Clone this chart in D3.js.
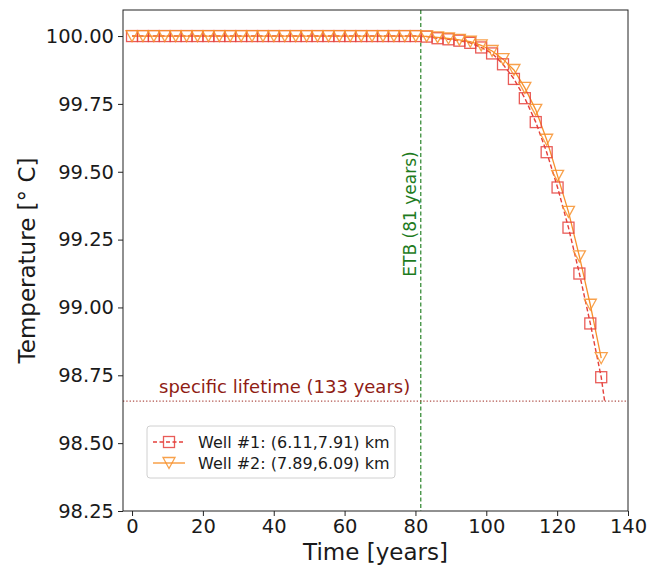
<!DOCTYPE html>
<html>
<head>
<meta charset="utf-8">
<script src="https://cdn.jsdelivr.net/npm/d3@7"></script>
<style>
  body { margin: 0; background: #fff; }
  text { font-family: "DejaVu Sans", sans-serif; fill: #1a1a1a; }
</style>
</head>
<body>
<svg width="664" height="569"></svg>
<script>
// data
var years = [0, 3.08, 6.16, 9.24, 12.32, 15.4, 18.48, 21.56, 24.64, 27.72, 30.8,
  33.88, 36.96, 40.04, 43.12, 46.2, 49.28, 52.36, 55.44, 58.52, 61.6, 64.68,
  67.76, 70.84, 73.92, 77.0, 80.08, 83.16, 86.24, 89.32, 92.4, 95.48, 98.56,
  101.64, 104.72, 107.8, 110.88, 113.96, 117.04, 120.12, 123.2, 126.28, 129.36, 132.44];

var well1Temp = [100, 100, 100, 100, 100, 100, 100, 100, 100, 100, 100,
  100, 100, 100, 100, 100, 100, 100, 100, 100, 100, 100,
  100, 100, 100, 100, 100, 99.998, 99.992, 99.988, 99.983, 99.975, 99.958,
  99.936, 99.896, 99.842, 99.771, 99.683, 99.572, 99.442, 99.294, 99.125, 98.941, 98.743];

var well2Temp = [100, 100, 100, 100, 100, 100, 100, 100, 100, 100, 100,
  100, 100, 100, 100, 100, 100, 100, 100, 100, 100, 100,
  100, 100, 100, 100, 100, 99.999, 99.995, 99.991, 99.986, 99.979, 99.966,
  99.945, 99.915, 99.875, 99.809, 99.728, 99.618, 99.485, 99.352, 99.188, 99.010, 98.813];

// well 1 line runs on to the lifetime threshold (no marker there)
var well1End = {year: 133.4, temp: 98.655};

var etbYear = 81.5;
var lifetimeTemp = 98.655;
var wellLabels = ['Well #1: (6.11,7.91) km', 'Well #2: (7.89,6.09) km'];
var xTicks = [0, 20, 40, 60, 80, 100, 120, 140];
var yTicks = [98.25, 98.5, 98.75, 99, 99.25, 99.5, 99.75, 100];

var red = '#e5403b';
var orange = '#f7912c';

var svg = d3.select('svg');
var plot = {l: 123, r: 628, t: 10, b: 511};

var x = d3.scaleLinear().domain([-2.55, 140]).range([plot.l, plot.r]);
var y = d3.scaleLinear().domain([98.25, 100.096]).range([plot.b, plot.t]);

var well1 = years.map((d, i) => ({year: d, temp: well1Temp[i]}));
var well2 = years.map((d, i) => ({year: d, temp: well2Temp[i]}));

var line = d3.line().x(d => x(d.year)).y(d => y(d.temp));

// reference lines
svg.append('line')
  .attr('x1', x(etbYear)).attr('x2', x(etbYear))
  .attr('y1', plot.t).attr('y2', plot.b)
  .style('stroke', '#3a8e3a').style('stroke-width', 1.3)
  .style('stroke-dasharray', '4,2.5');

svg.append('line')
  .attr('x1', plot.l).attr('x2', plot.r)
  .attr('y1', y(lifetimeTemp)).attr('y2', y(lifetimeTemp))
  .style('stroke', '#b0504a').style('stroke-width', 1.3)
  .style('stroke-dasharray', '1.3,2');

svg.append('text')
  .attr('transform', 'translate(' + (x(etbYear) - 5) + ',214) rotate(-90)')
  .attr('text-anchor', 'middle')
  .style('font-size', '17px')
  .style('fill', '#1e7b1e')
  .text('ETB (' + Math.floor(etbYear) + ' years)');

svg.append('text')
  .attr('x', 159).attr('y', y(lifetimeTemp) - 8)
  .style('font-size', '18px')
  .style('fill', '#8f1c14')
  .text('specific lifetime (133 years)');

// series
svg.append('path')
  .attr('d', line(well1.concat([well1End])))
  .style('fill', 'none').style('stroke', red).style('stroke-width', 1.4)
  .style('stroke-dasharray', '4.5,2.5');

svg.append('path')
  .attr('d', line(well2))
  .style('fill', 'none').style('stroke', orange).style('stroke-width', 1.3);

function square(g) {
  g.append('rect')
    .attr('x', -5.5).attr('y', -5.5).attr('width', 11).attr('height', 11)
    .style('fill', 'none').style('stroke', red).style('stroke-width', 1.3)
    .style('stroke-opacity', 0.85);
}
function triangle(g) {
  g.append('path')
    .attr('d', 'M-6,-5.5L6,-5.5L0,5.5Z')
    .style('fill', 'none').style('stroke', orange).style('stroke-width', 1.3)
    .style('stroke-opacity', 0.85);
}

svg.selectAll('.m1').data(well1).enter().append('g')
  .attr('class', 'm1')
  .attr('transform', d => 'translate(' + x(d.year) + ',' + y(d.temp) + ')')
  .each(function() { square(d3.select(this)); });

svg.selectAll('.m2').data(well2).enter().append('g')
  .attr('class', 'm2')
  .attr('transform', d => 'translate(' + x(d.year) + ',' + y(d.temp) + ')')
  .each(function() { triangle(d3.select(this)); });

// frame
svg.append('rect')
  .attr('x', plot.l).attr('y', plot.t)
  .attr('width', plot.r - plot.l).attr('height', plot.b - plot.t)
  .style('fill', 'none').style('stroke', '#222').style('stroke-width', 1);

// axes
var xAxis = svg.append('g')
  .attr('transform', 'translate(0,' + plot.b + ')')
  .call(d3.axisBottom(x).tickValues(xTicks).tickSize(5).tickPadding(3));
var yAxis = svg.append('g')
  .attr('transform', 'translate(' + plot.l + ',0)')
  .call(d3.axisLeft(y).tickValues(yTicks).tickFormat(d3.format('.2f')).tickSize(5).tickPadding(4));

[xAxis, yAxis].forEach(function(a) {
  a.select('.domain').remove();
  a.selectAll('line').style('stroke', '#222');
  a.selectAll('text').style('font-size', '19.5px').style('fill', '#1a1a1a')
    .style('font-family', '"DejaVu Sans", sans-serif');
});

svg.append('text')
  .attr('x', (plot.l + plot.r) / 2).attr('y', 560)
  .attr('text-anchor', 'middle')
  .style('font-size', '23px')
  .text('Time [years]');

svg.append('text')
  .attr('transform', 'translate(35,' + ((plot.t + plot.b) / 2) + ') rotate(-90)')
  .attr('text-anchor', 'middle')
  .style('font-size', '23px')
  .text('Temperature [° C]');

// legend
var legend = svg.append('g').attr('transform', 'translate(147,426)');
legend.append('rect')
  .attr('width', 248).attr('height', 52).attr('rx', 3)
  .style('fill', '#fff').style('fill-opacity', 0.8)
  .style('stroke', '#d0d0d0');

var rows = legend.selectAll('.row').data(wellLabels).enter().append('g')
  .attr('transform', (d, i) => 'translate(0,' + (16 + i * 21) + ')');

rows.append('line')
  .attr('x1', 6).attr('x2', 38)
  .style('stroke', (d, i) => i === 0 ? red : orange)
  .style('stroke-width', 1.3)
  .style('stroke-dasharray', (d, i) => i === 0 ? '4,2.5' : null);

rows.each(function(d, i) {
  var g = d3.select(this).append('g').attr('transform', 'translate(22,0)');
  if (i === 0) square(g); else triangle(g);
});

rows.append('text')
  .attr('x', 51).attr('y', 5.5)
  .style('font-size', '16px')
  .text(d => d);
</script>
</body>
</html>
